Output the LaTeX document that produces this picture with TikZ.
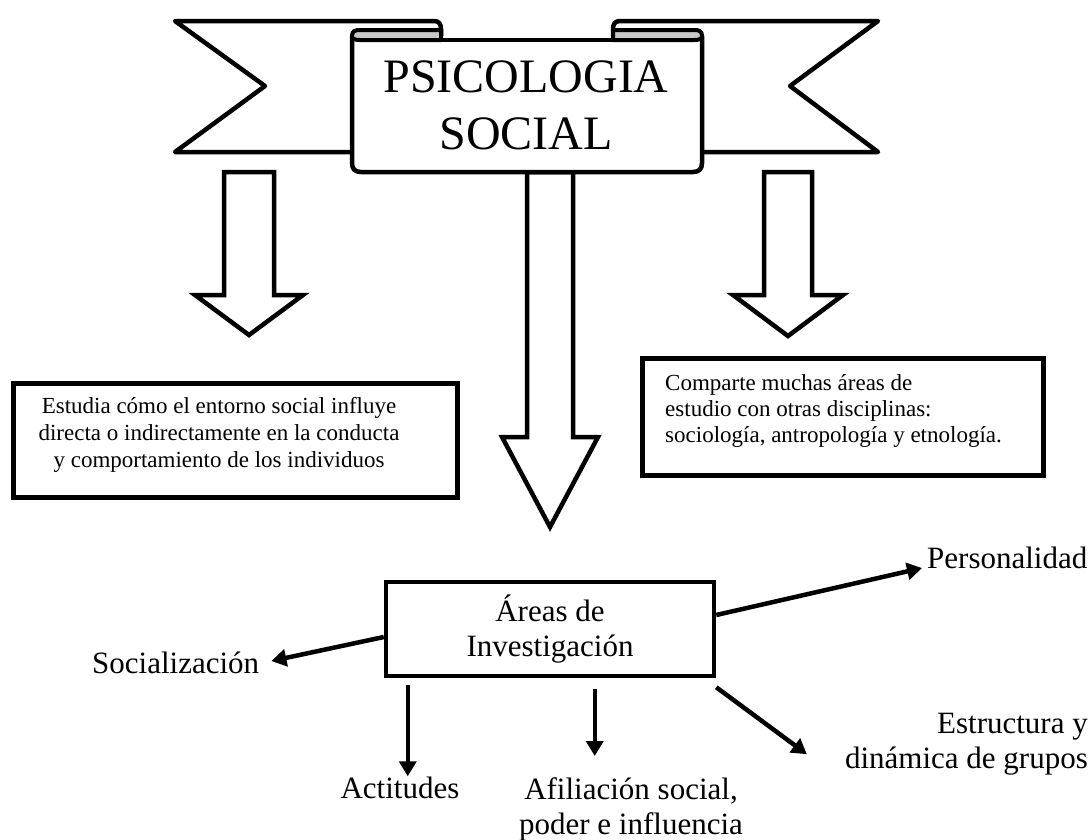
\documentclass[tikz,border=0pt]{standalone}
\usepackage{fontspec}
\setmainfont{Liberation Serif}
\usetikzlibrary{arrows.meta}
\definecolor{foldgray}{RGB}{200,200,200}
\tikzset{
  ribline/.style={draw=black, line width=4.5pt, line join=round, line cap=round},
  fold/.style={draw=black, line width=4pt, fill=foldgray, line join=round},
  blockarrow/.style={draw=black, line width=4.5pt, fill=white, line join=miter},
  textbox/.style={draw=black, line width=5pt, fill=white, inner sep=0pt},
  conn/.style={line width=4.5pt, -{Triangle[length=15pt,width=17pt]}},
  lbl/.style={font=\fontsize{31}{35}\selectfont, inner sep=0pt},
  smalltxt/.style={inner sep=0pt},
}
\begin{document}
\begin{tikzpicture}[x=1pt,y=-1pt]
\useasboundingbox (0,0) rectangle (1092,839);
\fill[white] (0,0) rectangle (1092,839);

% ---- block arrows (behind banner) ----
\path[blockarrow] (224,172) -- (274,172) -- (274,295) -- (303,295) -- (249,335) -- (195,295) -- (224,295) -- cycle;
\path[blockarrow] (527,172) -- (573,172) -- (573,437) -- (598,437) -- (550,527) -- (502,437) -- (527,437) -- cycle;
\path[blockarrow] (764,172) -- (812,172) -- (812,295) -- (843,295) -- (788,336) -- (733,295) -- (764,295) -- cycle;

% ---- ribbon tails ----
\fill[white] (441,40) -- (441,21) -- (175,21) -- (265,86) -- (175,152) -- (441,152) -- cycle;
\fill[white] (613,40) -- (613,21) -- (878,21) -- (790,86) -- (878,152) -- (613,152) -- cycle;
\draw[ribline] (441,40) -- (441,29) .. controls (441,24) and (439,21) .. (434,21) -- (175,21) -- (265,86) -- (175,152) -- (352,152);
\draw[ribline] (613,40) -- (613,29) .. controls (613,24) and (615,21) .. (620,21) -- (878,21) -- (790,86) -- (878,152) -- (702,152);

% ---- central panel ----
\fill[white] (352,36) rectangle (702,170);
\draw[ribline] (352,36) -- (352,163) .. controls (352,169) and (355,172) .. (361,172) -- (693,172) .. controls (699,172) and (702,169) .. (702,163) -- (702,36);
\draw[ribline] (441,40) -- (613,40);

% ---- folds ----
\filldraw[fold] (352,36) .. controls (352,31) and (355,30) .. (360,30) -- (441,30) -- (441,40) -- (360,40) .. controls (355,40) and (352,39) .. (352,36) -- cycle;
\filldraw[fold] (702,36) .. controls (702,31) and (699,30) .. (694,30) -- (613,30) -- (613,40) -- (694,40) .. controls (699,40) and (702,39) .. (702,36) -- cycle;

\node[font=\fontsize{48}{57}\selectfont, align=center, inner sep=0pt, anchor=north] (title) at (526,61) {PSICOLOGIA\\SOCIAL};

% ---- text boxes ----
\node[textbox, minimum width=444pt, minimum height=114pt] (lbox) at (235,440) {};
\node[smalltxt, font=\fontsize{23}{27}\selectfont, align=center, anchor=north] (ltext) at (219,397)
  {Estudia cómo el entorno social influye\\directa o indirectamente en la conducta\\y comportamiento de los individuos};

\node[textbox, minimum width=401pt, minimum height=117pt] (rbox) at (842.5,416.5) {};
\node[smalltxt, font=\fontsize{23}{26}\selectfont, align=left, anchor=north west] (rtext) at (665,374)
  {Comparte muchas áreas de\\estudio con otras disciplinas:\\sociología, antropología y etnología.};

% ---- areas ----
\node[textbox, line width=4.5pt, minimum width=328pt, minimum height=94pt, align=center, font=\fontsize{31}{35}\selectfont] (areas) at (550,629) {Áreas de\\Investigación};

\node[lbl, anchor=base west] (soc) at (92,673) {Socialización};
\node[lbl, anchor=base west] (pers) at (927,568) {Personalidad};
\node[lbl, anchor=base] (act) at (400,798) {Actitudes};
\node[lbl, align=center, anchor=north] (afi) at (631,777) {Afiliación social,\\poder e influencia};
\node[lbl, align=right, anchor=north east] (est) at (1088,713) {Estructura y\\dinámica de grupos};

\coordinate (actS) at ([shift={(24,7)}]areas.south west);
\coordinate (afiS) at ([shift={(211,11)}]areas.south west);
\coordinate (afiE) at (afiS |- afi.north);
\coordinate (estS) at ([shift={(0,9)}]areas.south east);

\draw[conn] (areas.west |- 0,637) -- ([shift={(12,-12)}]soc.base east);
\draw[conn] (areas.east |- 0,615) -- ([shift={(-5,0)}]pers.base west);
\draw[conn] (actS) -- (actS |- act.north);
\draw[conn] (afiS) -- ([shift={(0,-21)}]afiE);
\draw[conn] (estS) -- ([shift={(-38,10)}]est.west);
\end{tikzpicture}
\end{document}
